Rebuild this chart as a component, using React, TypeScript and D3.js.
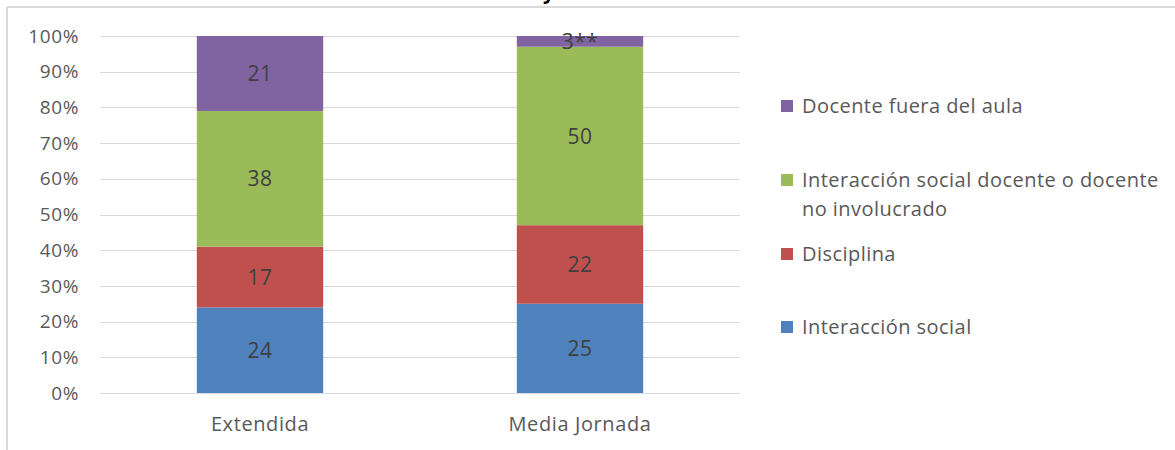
import React from "react";
import * as d3 from "d3";

const categories = ["Extendida", "Media Jornada"];
const seriesNames = [
  "Interacción social",
  "Disciplina",
  "Interacción social docente o docente no involucrado",
  "Docente fuera del aula",
];
const interaccionSocial = [24, 25];
const disciplina = [17, 22];
const interaccionDocente = [38, 50];
const docenteFuera = [21, 3];
const dataLabels = [
  ["24", "25"],
  ["17", "22"],
  ["38", "50"],
  ["21", "3**"],
];
const yTicks = [0, 10, 20, 30, 40, 50, 60, 70, 80, 90, 100];
const colors = ["#4F81BD", "#C0504D", "#9BBB59", "#8064A2"];
const legendLines = [
  ["Docente fuera del aula"],
  ["Interacción social docente o docente", "no involucrado"],
  ["Disciplina"],
  ["Interacción social"],
];
const legendColorIdx = [3, 2, 1, 0];

const FONT = "'Open Sans', sans-serif";

export default function App() {
  const W = 1175, H = 450;
  const left = 100, right = 740, top = 36, bottom = 393;
  const x = d3.scaleBand<string>().domain(categories).range([left, right]).paddingInner(0.605).paddingOuter(0.3025);
  const y = d3.scaleLinear().domain([0, 100]).range([bottom, top]);

  const table = categories.map((c, i) => ({
    cat: c,
    s0: interaccionSocial[i],
    s1: disciplina[i],
    s2: interaccionDocente[i],
    s3: docenteFuera[i],
  }));
  const stack = d3.stack<any>().keys(["s0", "s1", "s2", "s3"]).offset(d3.stackOffsetExpand);
  const layers = stack(table);

  const legendY = [106, 180, 254, 327];

  return (
    <svg width={W} height={H} style={{ position: "absolute", left: 0, top: 0, background: "#fff" }}>
      {/* frame */}
      <line x1={7} x2={W} y1={7} y2={7} stroke="#d9d9d9" strokeWidth={2} />
      <line x1={7} x2={7} y1={7} y2={H} stroke="#d9d9d9" strokeWidth={2} />
      {/* cut-off title fragment (as in the reference) */}
      <text x={543} y={-1} fontFamily={FONT} fontSize={20} fontWeight="bold" fill="#000">y</text>
      {/* gridlines */}
      {yTicks.map((t) => (
        <line key={t} x1={left} x2={right} y1={Math.round(y(t)) + 0.5} y2={Math.round(y(t)) + 0.5} stroke="#d9d9d9" strokeWidth={1} />
      ))}
      {/* tick labels */}
      {yTicks.map((t) => (
        <text key={"l" + t} x={79} y={y(t)} dy="0.35em" textAnchor="end" fontFamily={FONT} fontSize={19} letterSpacing={0.6} fill="#595959">
          {t + "%"}
        </text>
      ))}
      {/* bars */}
      {layers.map((layer, li) =>
        layer.map((d, ci) => {
          const x0 = x(categories[ci])!;
          const y1 = y(d[1] * 100), y0 = y(d[0] * 100);
          return (
            <rect key={li + "-" + ci} x={x0} y={y1} width={x.bandwidth()} height={y0 - y1} fill={colors[li]} />
          );
        })
      )}
      {layers.map((layer, li) =>
        layer.map((d, ci) => {
          const cx = x(categories[ci])! + x.bandwidth() / 2;
          const cy = (y(d[1] * 100) + y(d[0] * 100)) / 2;
          return (
            <text key={"t" + li + "-" + ci} x={cx} y={cy} dy="0.36em" textAnchor="middle" fontFamily={FONT} fontSize={21} letterSpacing={0.5} fill="#404040">
              {dataLabels[li][ci]}
            </text>
          );
        })
      )}
      {/* category labels */}
      {categories.map((c) => (
        <text key={c} x={x(c)! + x.bandwidth() / 2} y={424} dy="0.36em" textAnchor="middle" fontFamily={FONT} fontSize={20} letterSpacing={0.6} fill="#595959">
          {c}
        </text>
      ))}
      {/* legend */}
      {legendLines.map((lines, i) => (
        <g key={"lg" + i}>
          <rect x={781} y={legendY[i] - 6} width={12} height={12} fill={colors[legendColorIdx[i]]} />
          {lines.map((ln, j) => (
            <text key={j} x={802} y={legendY[i] + j * 29} dy="0.36em" fontFamily={FONT} fontSize={20} letterSpacing={0.45} fill="#595959">
              {ln}
            </text>
          ))}
        </g>
      ))}
    </svg>
  );
}
